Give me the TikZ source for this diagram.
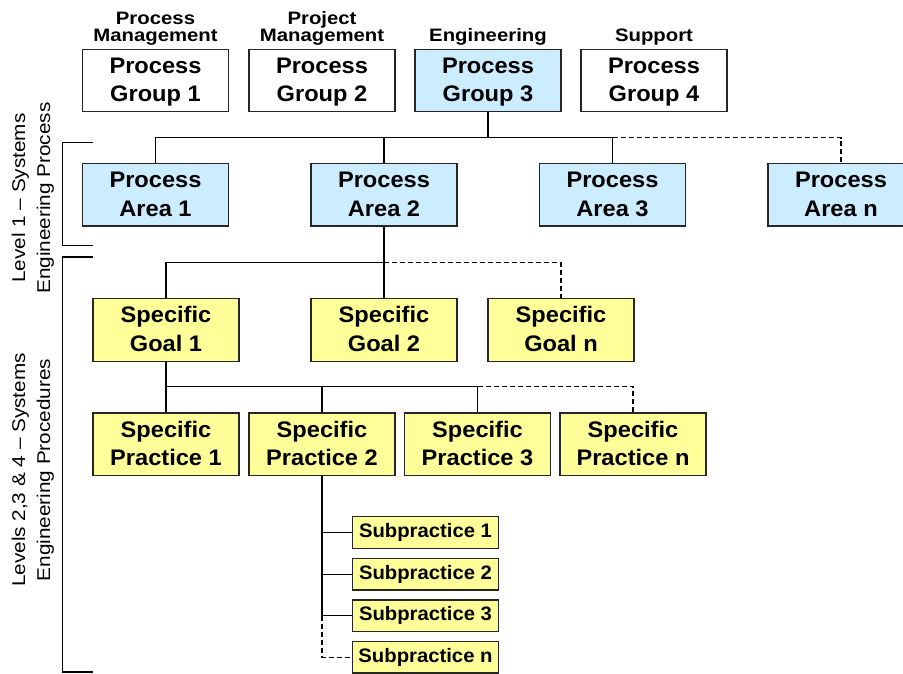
\documentclass[tikz,border=0pt]{standalone}
\usepackage{fontspec}
\setmainfont{Liberation Sans}
\usepackage{graphicx}
\definecolor{pblue}{RGB}{204,236,255}
\definecolor{pyel}{RGB}{255,255,153}
\newcommand\twoline[3]{\scalebox{#1}[1]{\begin{tabular}[b]{@{}c@{}}#2\\#3\end{tabular}}}
\newcommand\boxtext[2]{\raisebox{-1.5pt}[\height][\depth]{\scalebox{1.05}[1]{\begin{tabular}{@{}c@{}}#1\\#2\end{tabular}}}}
\newcommand\oneline[2]{\scalebox{#1}[1]{#2}}
\begin{document}
\begin{tikzpicture}[x=1pt,y=-1pt,
  box/.style={draw=black!85, line width=1.2pt, minimum width=146pt, minimum height=62.5pt, inner sep=0pt,
    font=\fontsize{22.5}{28.4}\selectfont\bfseries},
  plain/.style={box, fill=white},
  blue/.style={box, fill=pblue},
  yel/.style={box, fill=pyel},
  subbox/.style={draw=black!85, line width=1.2pt, fill=pyel, minimum width=146pt, minimum height=31.5pt, inner sep=0pt,
    font=\fontsize{19.5}{22}\selectfont\bfseries},
  head/.style={anchor=base, inner sep=0pt, font=\fontsize{18}{16}\selectfont\bfseries},
  side/.style={rotate=90, inner sep=0pt, font=\fontsize{18.5}{25}\selectfont},
  conn/.style={line width=1.2pt, draw=black},
  dconn/.style={conn, dash pattern=on 5pt off 3pt},
  brk/.style={line width=1.2pt, draw=black}
]
\clip (0,0) rectangle (903,673);
\fill[white] (0,0) rectangle (903,673);

% headers
\node[head] (h1) at (155.5,41.7) {\twoline{1.13}{Process}{Management}};
\node[head] (h2) at (322,41.7) {\twoline{1.13}{Project}{Management}};
\node[head] (h3) at (488,41.7) {\oneline{1.13}{Engineering}};
\node[head] (h4) at (654,41.7) {\oneline{1.13}{Support}};

% process groups
\node[plain] (pg1) at (155.5,80.5) {\boxtext{Process}{Group 1}};
\node[plain] (pg2) at (322,80.5) {\boxtext{Process}{Group 2}};
\node[blue]  (pg3) at (488,80.5) {\boxtext{Process}{Group 3}};
\node[plain] (pg4) at (654,80.5) {\boxtext{Process}{Group 4}};

% process areas
\node[blue] (pa1) at (155.5,194.7) {\boxtext{Process}{Area 1}};
\node[blue] (pa2) at (384,194.7) {\boxtext{Process}{Area 2}};
\node[blue] (pa3) at (612.5,194.7) {\boxtext{Process}{Area 3}};
\node[blue] (pan) at (841,194.7) {\boxtext{Process}{Area n}};

% goals
\node[yel] (sg1) at (166,330) {\boxtext{Specific}{Goal 1}};
\node[yel] (sg2) at (384,330) {\boxtext{Specific}{Goal 2}};
\node[yel] (sgn) at (561,330) {\boxtext{Specific}{Goal n}};

% practices
\node[yel] (sp1) at (166,444.3) {\boxtext{Specific}{Practice 1}};
\node[yel] (sp2) at (322,444.3) {\boxtext{Specific}{Practice 2}};
\node[yel] (sp3) at (477.5,444.3) {\boxtext{Specific}{Practice 3}};
\node[yel] (spn) at (633,444.3) {\boxtext{Specific}{Practice n}};

% subpractices
\node[subbox] (s1) at (425.5,532.5) {\oneline{1.04}{Subpractice 1}};
\node[subbox] (s2) at (425.5,574.2) {\oneline{1.04}{Subpractice 2}};
\node[subbox] (s3) at (425.5,615.8) {\oneline{1.04}{Subpractice 3}};
\node[subbox] (sn) at (425.5,657.2) {\oneline{1.04}{Subpractice n}};

% side labels
\node[side] (l1) at (32.5,198) {\twoline{1.12}{Level 1 -- Systems}{Engineering Process}};
\node[side] (l2) at (32.5,470) {\twoline{1.12}{Levels 2,3 \& 4 -- Systems}{Engineering Procedures}};

% brackets
\coordinate (b1t) at (93,142.3);
\coordinate (b1b) at (93,245.7);
\coordinate (b2t) at (93,257);
\coordinate (b2b) at (93,672);
\draw[brk] (b1t) -- (62.3,142.3) -- (62.3,245.7) -- (b1b);
\draw[brk] (b2t) -- (62.3,257) -- (62.3,672) -- (b2b);

% group 3 -> areas
\coordinate (j1) at (488,137.7);
\draw[conn] (pg3.south) -- (j1);
\draw[conn] (pa1.north) -- (pa1.north |- j1) -- (pa3.north |- j1) -- (pa3.north);
\draw[conn] (pa2.north) -- (pa2.north |- j1);
\draw[dconn] (pa3.north |- j1) -- (pan.north |- j1) -- (pan.north);

% area 2 -> goals
\coordinate (j2) at (384,262.7);
\draw[conn] (pa2.south) -- (sg2.north);
\draw[conn] (sg1.north) -- (sg1.north |- j2) -- (j2);
\draw[dconn] (j2) -- (sgn.north |- j2) -- (sgn.north);

% goal 1 -> practices
\coordinate (j3) at (166,386.7);
\draw[conn] (sg1.south) -- (sp1.north);
\draw[conn] (j3) -- (sp3.north |- j3) -- (sp3.north);
\draw[conn] (sp2.north) -- (sp2.north |- j3);
\draw[dconn] (sp3.north |- j3) -- (spn.north |- j3) -- (spn.north);

% practice 2 -> subpractices
\draw[conn] (sp2.south) -- (sp2.south |- s3.west) -- (s3.west);
\draw[conn] (sp2.south |- s1.west) -- (s1.west);
\draw[conn] (sp2.south |- s2.west) -- (s2.west);
\draw[dconn] (sp2.south |- s3.west) -- (sp2.south |- sn.west) -- (sn.west);
\end{tikzpicture}
\end{document}
